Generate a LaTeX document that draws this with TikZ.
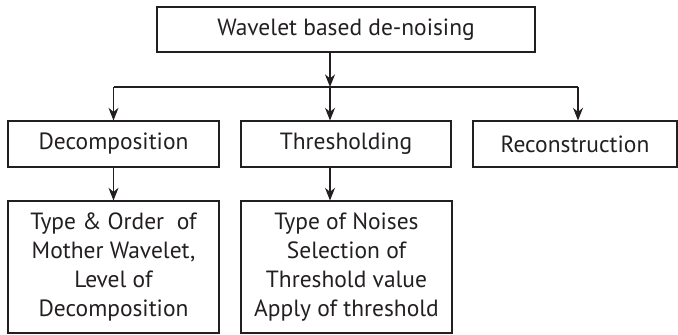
\documentclass[tikz,border=0pt]{standalone}
\usepackage{fontspec}
\setmainfont{PT Sans}
\usetikzlibrary{arrows.meta}
\definecolor{ink}{HTML}{231F20}
\begin{document}
\begin{tikzpicture}[x=0.75pt,y=-0.75pt,
  box/.style={draw=ink,line width=0.8pt,inner sep=0pt,align=center,text=ink,
    font=\fontsize{17.6}{21.75}\selectfont},
  conn/.style={draw=ink,line width=0.8pt},
  arr/.style={conn,-{Stealth[length=9.5pt,width=7.5pt]}}]
\useasboundingbox (0,0) rectangle (678,335);
\node[box,minimum width=283.5pt,minimum height=33.75pt] (top) at (346,29.5) {Wavelet based de-noising};
\node[box,minimum width=158.25pt,minimum height=34.5pt] (dec) at (113.5,144) {Decomposition};
\node[box,minimum width=157.5pt,minimum height=34.5pt] (thr) at (346,144) {Thresholding};
\node[box,minimum width=153pt,minimum height=34.5pt] (rec) at (575,144) {Reconstruction};
\node[box,minimum width=158.25pt,minimum height=99pt] (decd) at (113.5,267)
  {Type \& Order\ \ of\\Mother Wavelet,\\Level of\\Decomposition};
\node[box,minimum width=158.25pt,minimum height=99pt] (thrd) at (346.5,267)
  {Type of Noises\\Selection of\\Threshold value\\Apply of threshold};
\coordinate (j) at (330,87);
\coordinate (jl) at (113.5,87);
\coordinate (jr) at (578,87);
\draw[arr] (top.south -| j) -- (j);
\draw[conn] (jl) -- (jr);
\draw[arr] (jl) -- (dec.north -| jl);
\draw[arr] (j) -- (thr.north -| j);
\draw[arr] (jr) -- (rec.north -| jr);
\draw[arr] (dec.south) -- (decd.north);
\draw[arr] (thr.south -| j) -- (thrd.north -| j);
\end{tikzpicture}
\end{document}
